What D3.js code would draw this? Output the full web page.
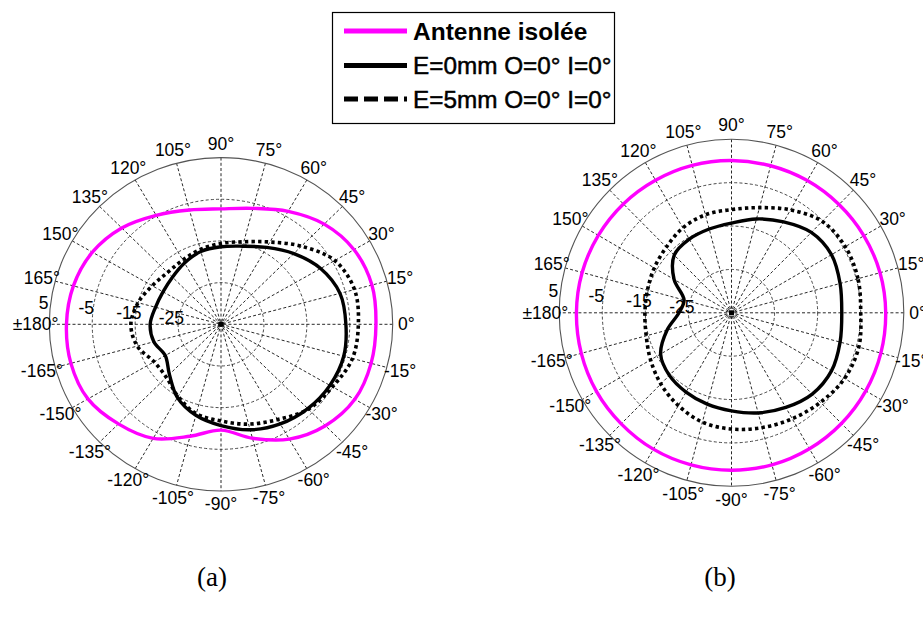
<!DOCTYPE html>
<html>
<head>
<meta charset="utf-8">
<script src="https://cdn.jsdelivr.net/npm/d3@7"></script>
<style>
  html, body { margin: 0; padding: 0; background: #ffffff; }
  svg { display: block; }
</style>
</head>
<body>
<svg id="chart" width="923" height="617"></svg>
<script>
// ---------------- DATA ----------------
// angles in degrees (0..345 every 15°; 195 = -165°, ... 345 = -15°)
const angles = [0, 15, 30, 45, 60, 75, 90, 105, 120, 135, 150, 165, 180,
                195, 210, 225, 240, 255, 270, 285, 300, 315, 330, 345];

// radial axis (dB)
const rMin = -35, rMax = 5;
const ringValues = [-25, -15, -5, 5];
const ringLabels = ["-25", "-15", "-5", "5"];

// angular tick labels
const angleTicks = [0, 15, 30, 45, 60, 75, 90, 105, 120, 135, 150, 165, 180,
                    -165, -150, -135, -120, -105, -90, -75, -60, -45, -30, -15];
const angleTickLabels = ["0°", "15°", "30°", "45°", "60°", "75°", "90°", "105°", "120°", "135°", "150°", "165°", "±180°",
                         "-165°", "-150°", "-135°", "-120°", "-105°", "-90°", "-75°", "-60°", "-45°", "-30°", "-15°"];

// series names
const seriesNames = ["Antenne isolée", "E=0mm O=0° I=0°", "E=5mm O=0° I=0°"];

// (a) values in dB
const aIsolee = [1.1, 1.4, 0.8, -1.0, -3.7, -6.2, -7.3, -6.6, -4.8, -2.3, -0.4, 0.6, 1.0,
                 1.2, 0.8, -1.2, -3.4, -7.2, -9.6, -6.7, -3.2, -0.6, 1.0, 1.2];
const aE0 = [-5.9, -6.3, -8.2, -11.0, -13.7, -15.6, -16.4, -16.9, -18.0, -19.0, -19.4, -19.2, -18.5,
             -18.8, -20.0, -18.0, -14.7, -12.4, -10.7, -8.8, -7.4, -6.4, -5.7, -5.4];
const aE5 = [-3.0, -2.8, -4.4, -8.5, -12.2, -14.5, -15.6, -16.4, -17.2, -17.4, -16.5, -15.0, -14.0,
             -14.8, -17.0, -17.0, -15.0, -12.8, -11.8, -10.2, -8.6, -6.2, -5.0, -3.3];

// (b) values in dB
const bIsolee = [0.8, 0.7, 0.5, 0.3, 0.2, 0.1, 0.1, 0.2, 0.3, 0.5, 0.7, 0.9, 1.0,
                 1.1, 1.2, 1.2, 1.3, 1.3, 1.3, 1.3, 1.2, 1.1, 1.0, 0.9];
const bE0 = [-9.4, -8.9, -8.2, -8.8, -10.8, -12.6, -14.3, -15.0, -15.4, -16.2, -19.6, -23.6, -22.8,
             -19.5, -16.0, -14.6, -13.9, -13.2, -12.4, -11.1, -9.8, -8.5, -8.2, -8.9];
const bE5 = [-5.0, -4.6, -4.5, -5.2, -7.6, -9.9, -11.2, -11.6, -12.4, -13.6, -14.3, -14.8, -14.9,
             -14.5, -13.3, -11.8, -10.3, -8.9, -8.2, -7.6, -6.8, -5.8, -4.7, -4.4];

const panelLabels = ["(a)", "(b)"];

// ---------------- DRAWING ----------------
const svg = d3.select("#chart");
svg.append("rect").attr("width", 923).attr("height", 617).attr("fill", "#ffffff");

const seriesStyle = [
  { color: "#ff00ff", width: 3.4, dash: null },
  { color: "#000000", width: 3.4, dash: null },
  { color: "#000000", width: 3.6, dash: "3.4,3.2" }
];

const panels = [
  { cx: 221, cy: 324.3, rx: 171.7, ry: 166.7, series: [aIsolee, aE0, aE5], label: panelLabels[0], lx: 212 },
  { cx: 731.5, cy: 312.8, rx: 172.3, ry: 173.5, series: [bIsolee, bE0, bE5], label: panelLabels[1], lx: 720 }
];

const rNorm = d3.scaleLinear().domain([rMin, rMax]).range([0, 1]);
const toRad = d => d * Math.PI / 180;
const labelFont = "Liberation Sans, Arial, sans-serif";

panels.forEach(p => {
  const g = svg.append("g");
  const px = (v, a) => p.cx + rNorm(v) * p.rx * Math.cos(toRad(a));
  const py = (v, a) => p.cy - rNorm(v) * p.ry * Math.sin(toRad(a));

  // dashed rings (inner)
  ringValues.slice(0, -1).forEach(v => {
    g.append("ellipse")
      .attr("cx", p.cx).attr("cy", p.cy)
      .attr("rx", rNorm(v) * p.rx).attr("ry", rNorm(v) * p.ry)
      .attr("fill", "none").attr("stroke", "#333333")
      .attr("stroke-width", 0.9).attr("stroke-dasharray", "3,2.2");
  });

  // spokes
  d3.range(0, 180, 15).forEach(a => {
    g.append("line")
      .attr("x1", px(rMax, a)).attr("y1", py(rMax, a))
      .attr("x2", px(rMax, a + 180)).attr("y2", py(rMax, a + 180))
      .attr("stroke", "#111111").attr("stroke-width", 0.9)
      .attr("stroke-dasharray", "3,2.2");
  });

  // outer circle
  g.append("ellipse")
    .attr("cx", p.cx).attr("cy", p.cy)
    .attr("rx", p.rx).attr("ry", p.ry)
    .attr("fill", "none").attr("stroke", "#555555").attr("stroke-width", 1.1);

  // centre mark
  g.append("rect")
    .attr("x", p.cx - 2.5).attr("y", p.cy - 2.5)
    .attr("width", 5).attr("height", 5).attr("fill", "#000");

  // ring labels
  ringValues.forEach((v, i) => {
    const rr = rNorm(v);
    g.append("text")
      .attr("x", p.cx - (rr * p.rx + 7) * 0.993)
      .attr("y", p.cy - (rr * p.ry + 7) * 0.122)
      .attr("text-anchor", "middle")
      .attr("dominant-baseline", "central")
      .attr("font-family", labelFont)
      .attr("font-size", 17.5)
      .attr("fill", "#000")
      .text(ringLabels[i]);
  });

  // angle labels
  angleTicks.forEach((a, i) => {
    g.append("text")
      .attr("x", p.cx + 1.08 * p.rx * Math.cos(toRad(a)))
      .attr("y", p.cy - 1.08 * p.ry * Math.sin(toRad(a)))
      .attr("text-anchor", "middle")
      .attr("dominant-baseline", "central")
      .attr("font-family", labelFont)
      .attr("font-size", 17.5)
      .attr("fill", "#000")
      .text(angleTickLabels[i]);
  });

  // data curves
  const line = d3.line()
    .x(d => px(d.v, d.a))
    .y(d => py(d.v, d.a))
    .curve(d3.curveCatmullRomClosed.alpha(0.5));

  p.series.forEach((vals, si) => {
    const pts = angles.map((a, i) => ({ a: a, v: vals[i] }));
    const st = seriesStyle[si];
    g.append("path")
      .attr("d", line(pts))
      .attr("fill", "none")
      .attr("stroke", st.color)
      .attr("stroke-width", st.width)
      .attr("stroke-dasharray", st.dash)
      .attr("stroke-linejoin", "round");
  });

  // panel label
  svg.append("text")
    .attr("x", p.lx).attr("y", 586)
    .attr("text-anchor", "middle")
    .attr("font-family", "Liberation Serif, Times New Roman, serif")
    .attr("font-size", 27)
    .attr("fill", "#000")
    .text(p.label);
});

// ---------------- LEGEND ----------------
const leg = svg.append("g");
leg.append("rect")
  .attr("x", 332.5).attr("y", 12.5).attr("width", 282).attr("height", 111)
  .attr("fill", "#fff").attr("stroke", "#000").attr("stroke-width", 1.2);

const legRowsY = [31, 65.5, 99];
const legStyles = [
  { color: "#ff00ff", dash: null, weight: "bold", size: 24.5, thick: 0 },
  { color: "#000000", dash: null, weight: "normal", size: 24.3, thick: 0.5 },
  { color: "#000000", dash: "14,6", weight: "normal", size: 24.3, thick: 0.5 }
];
seriesNames.forEach((name, i) => {
  const y = legRowsY[i];
  const st = legStyles[i];
  leg.append("line")
    .attr("x1", 344).attr("x2", 407).attr("y1", y).attr("y2", y)
    .attr("stroke", st.color).attr("stroke-width", 5)
    .attr("stroke-dasharray", st.dash);
  leg.append("text")
    .attr("x", 413).attr("y", y)
    .attr("dominant-baseline", "central")
    .attr("font-family", labelFont)
    .attr("font-size", st.size)
    .attr("font-weight", st.weight)
    .attr("fill", "#000")
    .attr("stroke", st.thick ? "#000" : null)
    .attr("stroke-width", st.thick || null)
    .text(name);
});
</script>
</body>
</html>
